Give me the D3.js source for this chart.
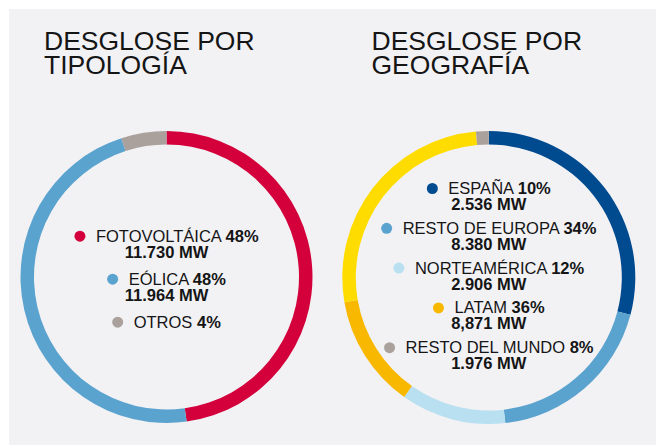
<!DOCTYPE html>
<html>
<head>
<meta charset="utf-8">
<script src="https://cdn.jsdelivr.net/npm/d3@7"></script>
<style>
  html, body { margin: 0; padding: 0; background: #ffffff; }
  svg { display: block; }
  text { font-family: "Liberation Sans", Arial, Helvetica, sans-serif; fill: #151515; }
</style>
</head>
<body>
<svg id="chart" width="656" height="445"></svg>
<script>
// ---- data ----
const typeTitle = ["DESGLOSE POR", "TIPOLOGÍA"];
const typeCategories = ["FOTOVOLTÁICA", "EÓLICA", "OTROS"];
const typePercents = ["48%", "48%", "4%"];
const typeMW = ["11.730 MW", "11.964 MW", ""];
const typeColors = ["#d3003b", "#5ba3cf", "#aba19c"];
// ring segments as drawn (share of the circle, %)
const typeArcShares = [47.8, 47.2, 5.0];

const geoTitle = ["DESGLOSE POR", "GEOGRAFÍA"];
const geoCategories = ["ESPAÑA", "RESTO DE EUROPA", "NORTEAMÉRICA", "LATAM", "RESTO DEL MUNDO"];
const geoPercents = ["10%", "34%", "12%", "36%", "8%"];
const geoMW = ["2.536 MW", "8.380 MW", "2.906 MW", "8,871 MW", "1.976 MW"];
const geoColors = ["#004a8f", "#5ba3cf", "#b9e0f0", "#f8b800", "#aba19c"];
// ring segments as drawn (share of the circle, %), in clockwise order from 12 o'clock
const geoArcSegments = ["ESPAÑA", "RESTO DE EUROPA", "NORTEAMÉRICA", "LATAM", "LATAM2", "RESTO DEL MUNDO"];
const geoArcShares = [29.1, 19.1, 11.6, 12.5, 26.3, 1.4];
const geoArcColors = ["#004a8f", "#5ba3cf", "#b9e0f0", "#f8b800", "#ffdc00", "#aba19c"];

// ---- drawing ----
const svg = d3.select("#chart");
svg.append("rect").attr("x", 9).attr("y", 9).attr("width", 647).attr("height", 436).attr("fill", "#f2f2f5");

function drawPanel(cfg) {
  const g = svg.append("g");
  // title
  cfg.title.forEach((t, i) => {
    g.append("text").attr("x", cfg.titleX).attr("y", 50 + i * 24)
      .style("font-size", "26.5px").text(t);
  });
  // ring
  const pie = d3.pie().sort(null).value(d => d.v);
  const arc = d3.arc().innerRadius(cfg.rIn).outerRadius(cfg.rOut);
  const arcs = pie(cfg.shares.map((v, i) => ({ v, c: cfg.arcColors[i] })));
  const ring = g.append("g").attr("transform", `translate(${cfg.cx},${cfg.cy})`);
  ring.selectAll("path").data(arcs).join("path")
    .attr("d", arc).attr("fill", d => d.data.c);
  // legend
  cfg.cats.forEach((cat, i) => {
    const y = cfg.legStart + i * cfg.legStep;
    const t = g.append("text").attr("y", y).style("font-size", "16.5px");
    t.append("tspan").text(cat + " ");
    t.append("tspan").style("font-weight", "bold").text(cfg.pcts[i]);
    const w = t.node().getComputedTextLength();
    const gap = 16, r = 5.5;
    const total = (r + gap) + w;
    const left = cfg.cx - total / 2;
    t.attr("x", left + r + gap);
    g.append("circle").attr("cx", left + r).attr("cy", y - 5.5).attr("r", r).attr("fill", cfg.colors[i]);
    if (cfg.mw[i]) {
      g.append("text").attr("x", cfg.cx).attr("y", y + 16).attr("text-anchor", "middle")
        .style("font-size", "16.5px").style("font-weight", "bold").text(cfg.mw[i]);
    }
  });
}

drawPanel({
  title: typeTitle, titleX: 44,
  cx: 166.5, cy: 277, rOut: 146, rIn: 132.5,
  shares: typeArcShares, arcColors: typeColors,
  cats: typeCategories, pcts: typePercents, mw: typeMW, colors: typeColors,
  legStart: 241.7, legStep: 43
});

drawPanel({
  title: geoTitle, titleX: 371.5,
  cx: 488.8, cy: 277.5, rOut: 146.5, rIn: 133,
  shares: geoArcShares, arcColors: geoArcColors,
  cats: geoCategories, pcts: geoPercents, mw: geoMW, colors: geoColors,
  legStart: 194, legStep: 39.8
});
</script>
</body>
</html>
